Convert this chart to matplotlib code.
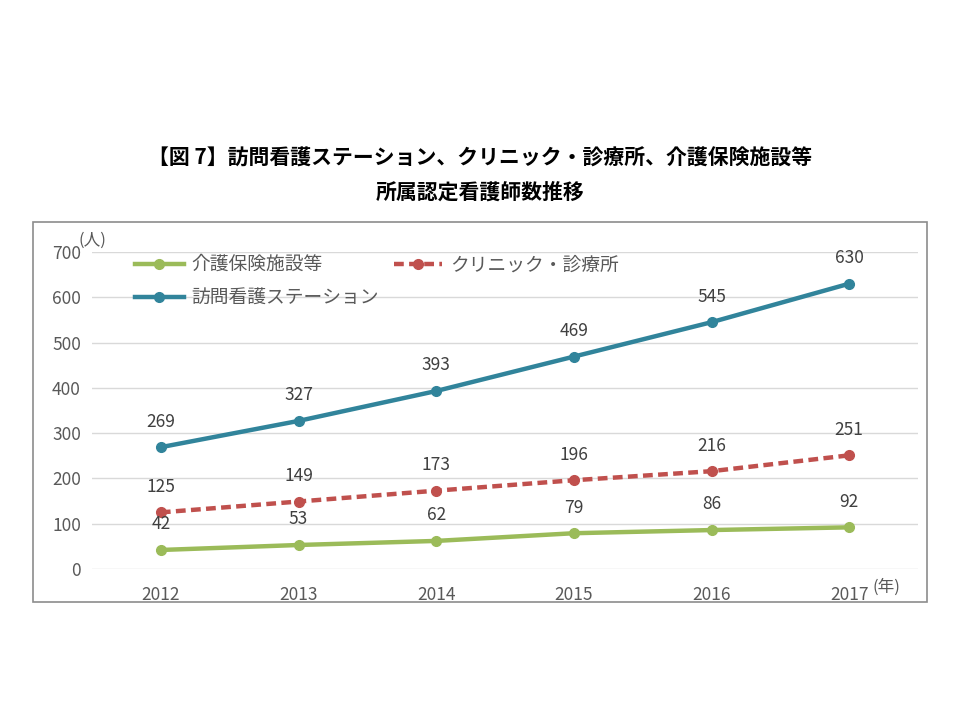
import matplotlib.pyplot as plt
from matplotlib.patches import Rectangle

plt.rcParams['font.family'] = ['Liberation Sans Narrow', 'Noto Sans CJK JP', 'DejaVu Sans']
cjk = ['Noto Sans CJK JP', 'DejaVu Sans']

years = [2012, 2013, 2014, 2015, 2016, 2017]
kaigo = [42, 53, 62, 79, 86, 92]
clinic = [125, 149, 173, 196, 216, 251]
houmon = [269, 327, 393, 469, 545, 630]
yticks = [0, 100, 200, 300, 400, 500, 600, 700]

title = '【図 7】訪問看護ステーション、クリニック・診療所、介護保険施設等\n所属認定看護師数推移'

fig = plt.figure(figsize=(9.6, 7.2), dpi=100)
W, H = 960, 720

# outer frame
fig.patches.append(Rectangle((33 / W, 1 - 602 / H), 894 / W, 380 / H, transform=fig.transFigure,
                             fill=False, edgecolor='#8c8c8c', linewidth=1.2))

fig.text(0.5, 1 - 175 / H, title, ha='center', va='center', fontsize=15, fontweight='bold',
         family=cjk, linespacing=1.75)

ax = fig.add_axes([92 / W, 1 - 569 / H, (918 - 92) / W, (569 - 252) / H])
ax.set_xlim(2011.5, 2017.5)
ax.set_ylim(0, 700)
for s in ax.spines.values():
    s.set_visible(False)
ax.set_yticks(yticks)
ax.set_xticks(years)
ax.grid(axis='y', color='#d9d9d9', linewidth=1)
ax.set_axisbelow(True)
ax.tick_params(length=0, labelsize=12.5, labelcolor='#595959', pad=8)
ax.tick_params(axis='x', pad=12)

l1, = ax.plot(years, kaigo, color='#9BBB59', lw=3.2, marker='o', ms=7, label='介護保険施設等')
l3, = ax.plot(years, houmon, color='#31849B', lw=3.2, marker='o', ms=7, label='訪問看護ステーション')
l2, = ax.plot(years, clinic, color='#C0504D', lw=3.2, ls=(0, (2.2, 1.2)), marker='o', ms=7,
              label='クリニック・診療所')

for series in (kaigo, clinic, houmon):
    for x, y in zip(years, series):
        ax.annotate(str(y), (x, y), xytext=(0, 12), textcoords='offset points',
                    ha='center', va='bottom', fontsize=12.5, color='#404040')

leg = ax.legend(handles=[l1, l3, l2], ncol=2, loc='upper left', bbox_to_anchor=(0.052, 0.993),
                frameon=False, handlelength=2.6, columnspacing=0.8, borderpad=0, borderaxespad=0,
                labelspacing=0.65, handletextpad=0.4, prop={'family': cjk, 'size': 13.5})
for t in leg.get_texts():
    t.set_color('#595959')

fig.text(78 / W, 1 - 240 / H, '(人)', fontsize=12, color='#595959', ha='left', va='center', family=cjk)
fig.text(873 / W, 1 - 587 / H, '(年)', fontsize=12, color='#595959', ha='left', va='center', family=cjk)

fig.savefig('out.png', dpi=100)
